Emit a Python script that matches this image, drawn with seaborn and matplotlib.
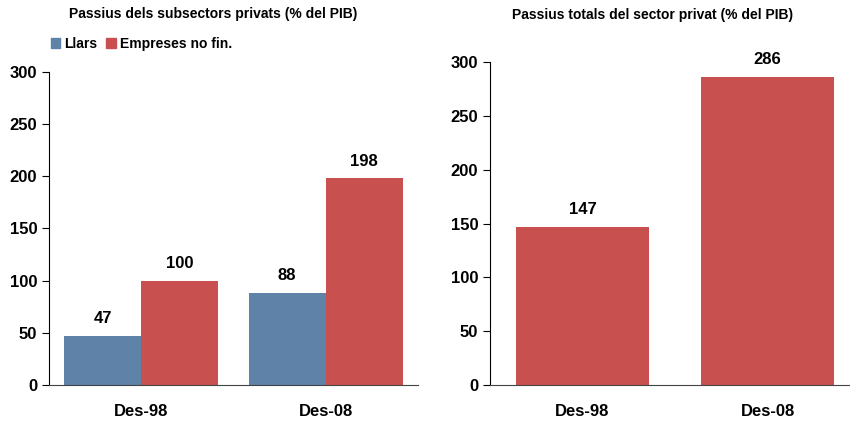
import pandas as pd
import numpy as np
import matplotlib.pyplot as plt
import seaborn as sns

# dades
periodes = ["Des-98", "Des-08"]
llars = [47, 88]
empreses = [100, 198]
total = [147, 286]
series = ["Llars", "Empreses no fin."]

blau = "#5F82A9"
vermell = "#C8504F"

sns.set_style("white")
plt.rcParams['font.family'] = ['Liberation Sans', 'DejaVu Sans']
plt.rcParams['font.weight'] = 'bold'
plt.rcParams['text.color'] = 'black'
plt.rcParams['xtick.color'] = 'black'
plt.rcParams['ytick.color'] = 'black'

df = pd.DataFrame({
    "Periode": periodes * 2,
    "Serie": [series[0]] * 2 + [series[1]] * 2,
    "Valor": llars + empreses,
})
df_tot = pd.DataFrame({"Periode": periodes, "Valor": total})

fig = plt.figure(figsize=(8.5, 4.21), dpi=100)
ax1 = fig.add_axes([49 / 850, 1 - 385 / 421, 369 / 850, 313 / 421])
ax2 = fig.add_axes([490 / 850, 1 - 385 / 421, 370 / 850, 323 / 421])

# Passius dels subsectors privats
sns.barplot(data=df, x="Periode", y="Valor", hue="Serie", ax=ax1,
            palette=[blau, vermell], width=0.835, saturation=1, legend=False,
            linewidth=0)
for c in ax1.containers:
    ax1.bar_label(c, fmt="%d", padding=7, fontsize=12, fontweight='bold')
ax1.set_ylim(0, 300)
ax1.set_yticks(np.arange(0, 301, 50))

# Passius totals del sector privat
sns.barplot(data=df_tot, x="Periode", y="Valor", ax=ax2, color=vermell,
            width=0.72, saturation=1, linewidth=0)
for c in ax2.containers:
    ax2.bar_label(c, fmt="%d", padding=7, fontsize=12, fontweight='bold')
ax2.set_ylim(0, 300)
ax2.set_yticks(np.arange(0, 301, 50))

for ax in (ax1, ax2):
    ax.set_xlim(-0.5, 1.5)
    ax.set_xlabel("")
    ax.set_ylabel("")
    for s in ("top", "right"):
        ax.spines[s].set_visible(False)
    ax.spines["left"].set_color("black")
    ax.spines["bottom"].set_color("#444444")
    ax.set_xticks([-0.5, 0.5, 1.5], minor=True)
    ax.tick_params(axis="x", which="major", length=0, pad=14, labelsize=12)
    ax.tick_params(axis="x", which="minor", length=5, direction="out", color="#444444")
    ax.tick_params(axis="y", length=5, direction="out", labelsize=12, left=True, color="black")
    for t in ax.get_xticklabels() + ax.get_yticklabels():
        t.set_fontweight("bold")

fig.text(213 / 850, 1 - 14 / 421, "Passius dels subsectors privats (% del PIB)",
         ha="center", va="center", fontsize=10, fontweight="bold")
fig.text(653 / 850, 1 - 15 / 421, "Passius totals del sector privat (% del PIB)",
         ha="center", va="center", fontsize=10, fontweight="bold")

handles = [plt.Rectangle((0, 0), 1, 1, color=blau), plt.Rectangle((0, 0), 1, 1, color=vermell)]
fig.legend(handles, series, loc="center left", bbox_to_anchor=(38 / 850, 1 - 44 / 421),
           ncol=2, frameon=False, handlelength=0.7, handleheight=0.7,
           handletextpad=0.3, columnspacing=0.6, prop={"size": 10, "weight": "bold"})

fig.savefig("out.png", dpi=100)
